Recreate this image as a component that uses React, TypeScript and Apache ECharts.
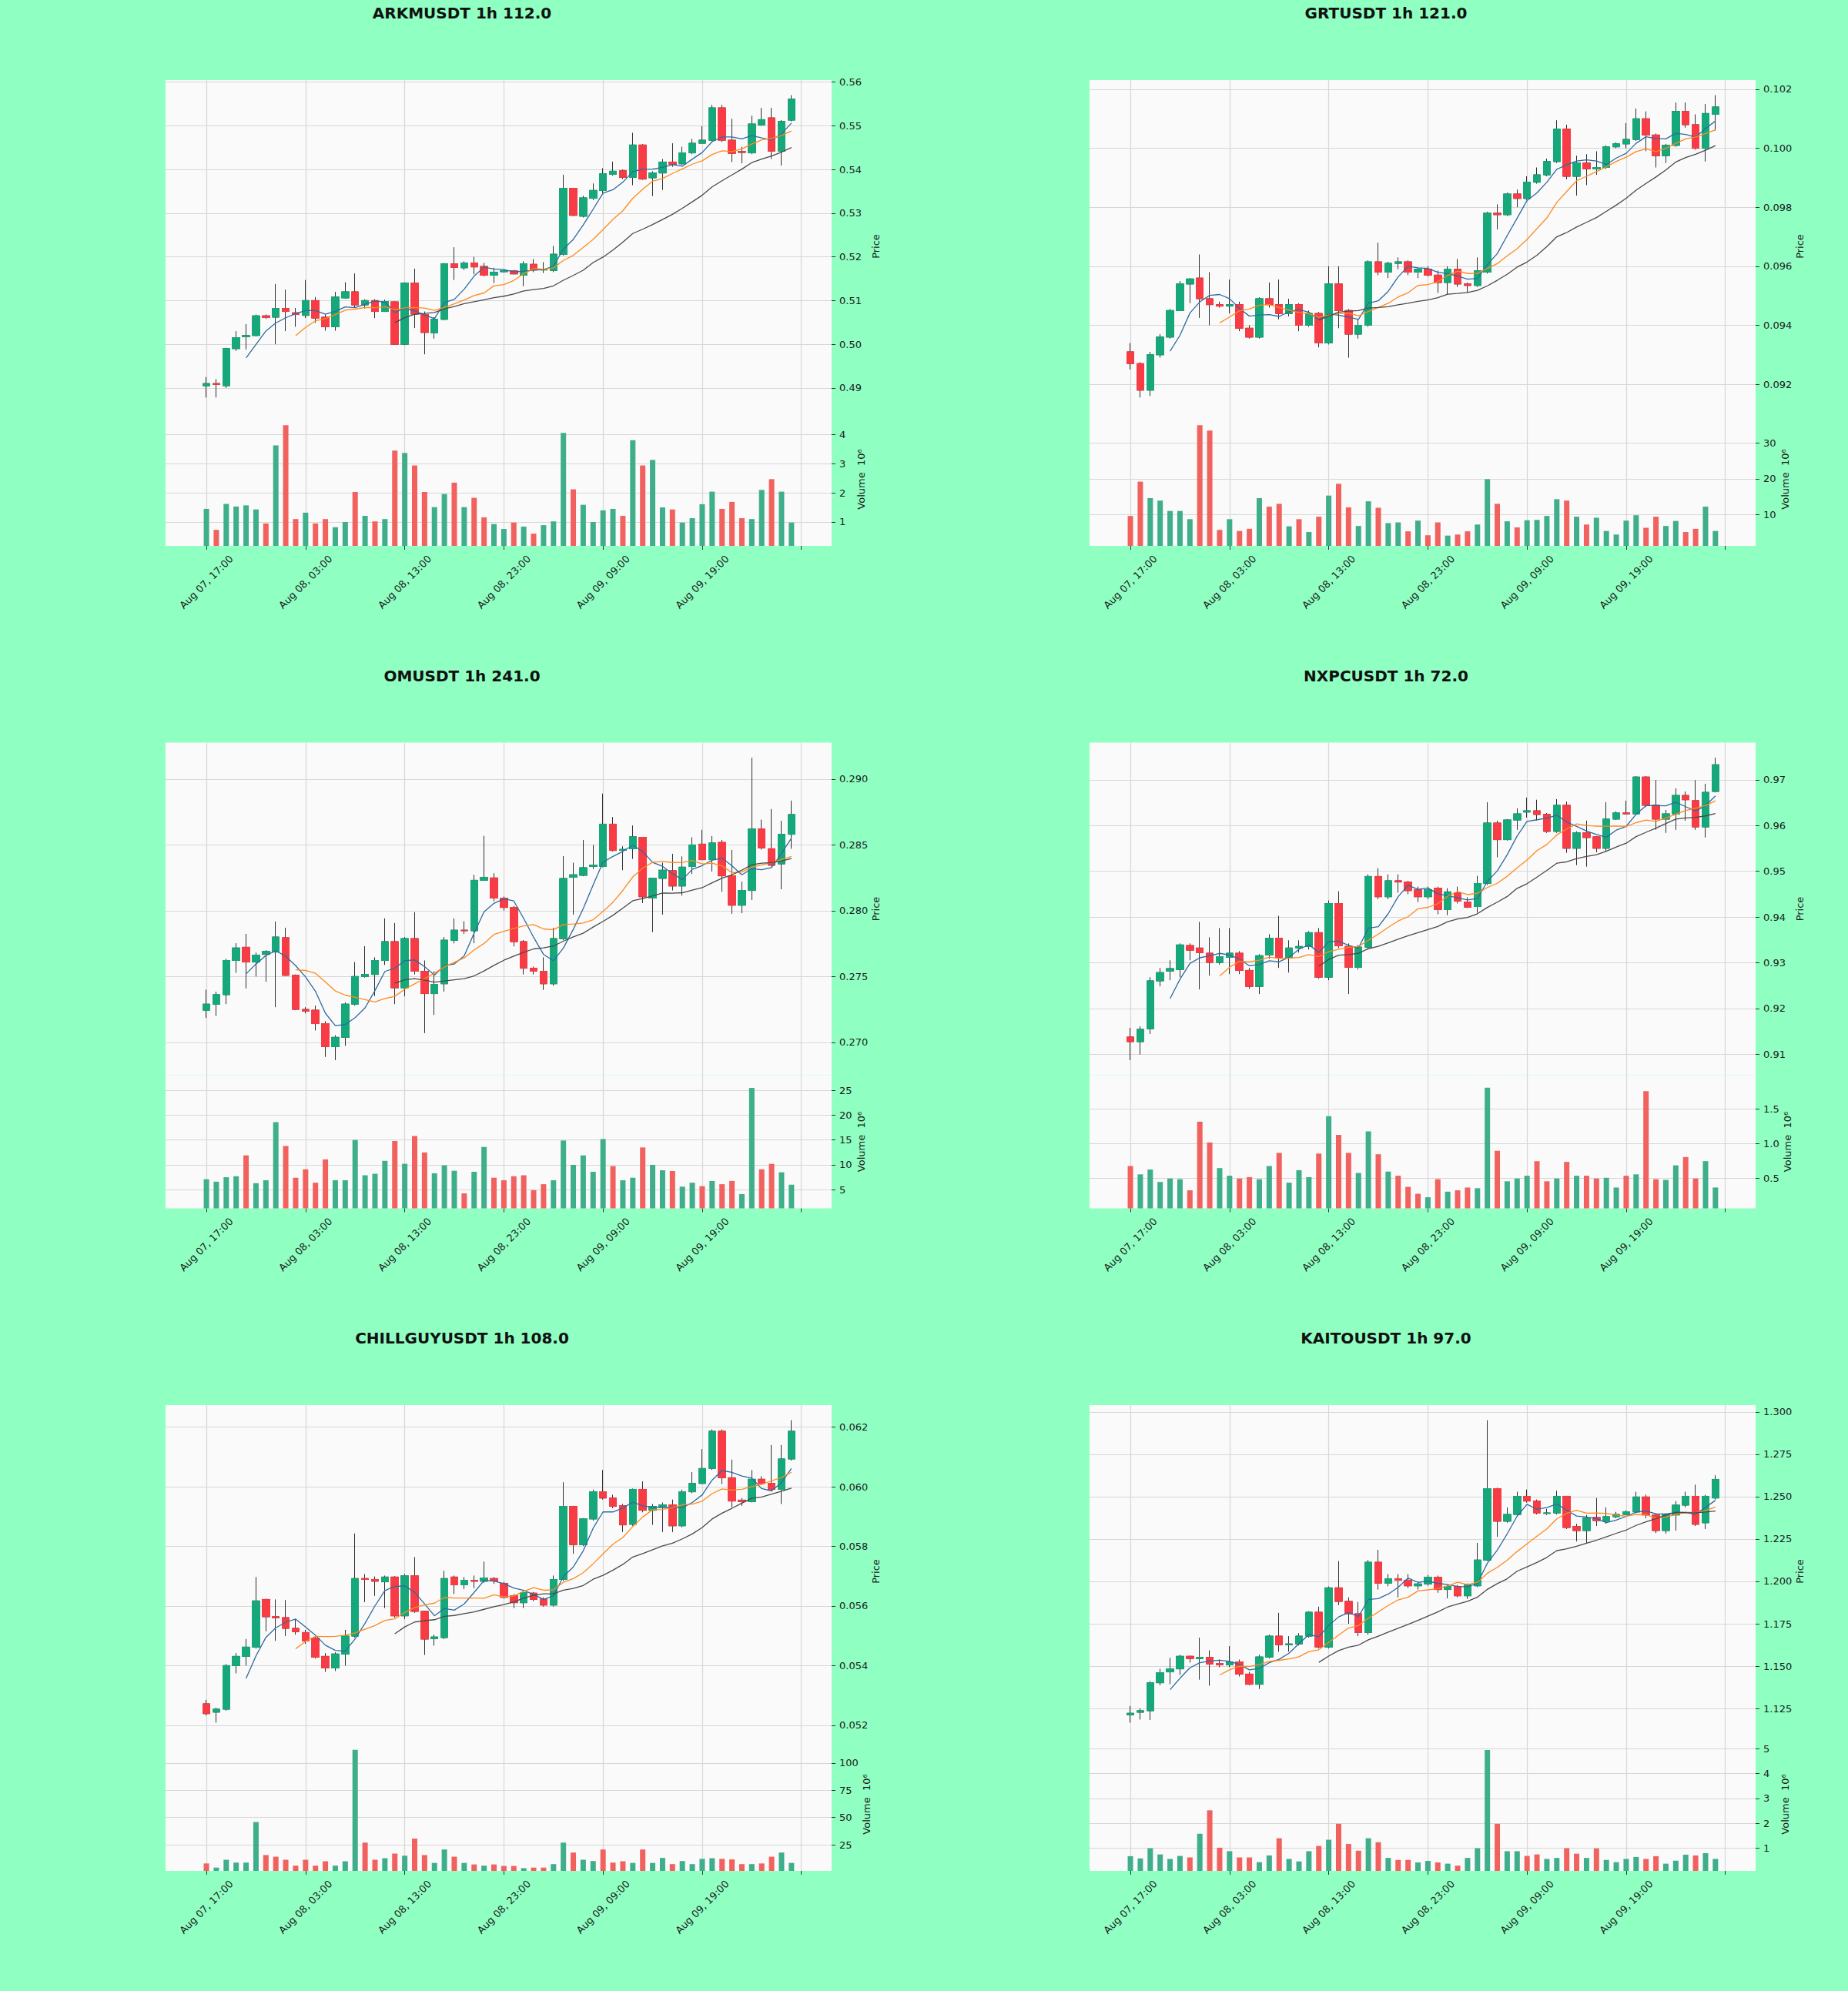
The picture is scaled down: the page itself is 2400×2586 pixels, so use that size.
import React, { useEffect, useRef } from 'react';
import * as echarts from 'echarts';

// ---------- tick labels (every 10 hourly candles) ----------
const xTickLabels = ['Aug 07, 17:00', 'Aug 08, 03:00', 'Aug 08, 13:00', 'Aug 08, 23:00', 'Aug 09, 09:00', 'Aug 09, 19:00'];

// ---------- ARKMUSDT ----------
const arkmOpen = [0.4905,0.491,0.4905,0.499,0.5017,0.502,0.5065,0.5062,0.5082,0.5072,0.5066,0.51,0.5062,0.504,0.5106,0.512,0.509,0.51,0.5075,0.5097,0.5,0.514,0.5068,0.5026,0.5057,0.5184,0.5175,0.5186,0.5178,0.5158,0.5166,0.5168,0.5158,0.5183,0.517,0.5169,0.5206,0.5357,0.5293,0.5334,0.5352,0.5389,0.5397,0.5382,0.5456,0.5381,0.5392,0.5417,0.5413,0.5438,0.546,0.5467,0.5541,0.5467,0.5441,0.5438,0.5502,0.5518,0.5442,0.5513];
const arkmHigh = [0.4925,0.492,0.4992,0.503,0.5046,0.5068,0.5068,0.5138,0.5125,0.5083,0.5147,0.5108,0.5068,0.512,0.5142,0.5162,0.5103,0.5103,0.5102,0.5098,0.5142,0.5173,0.5075,0.5062,0.5186,0.5222,0.519,0.52,0.5186,0.5175,0.517,0.517,0.519,0.5195,0.5188,0.5225,0.5388,0.5358,0.534,0.5368,0.5403,0.5418,0.54,0.5484,0.5458,0.5396,0.5424,0.546,0.5452,0.547,0.5499,0.5548,0.5548,0.5516,0.5452,0.5523,0.5541,0.5541,0.5513,0.557];
const arkmLow = [0.4878,0.4878,0.49,0.4985,0.4988,0.5018,0.5058,0.5,0.503,0.504,0.506,0.5049,0.5031,0.5031,0.5104,0.5084,0.5082,0.506,0.5074,0.4999,0.4998,0.5037,0.4977,0.5013,0.5055,0.5147,0.517,0.516,0.5155,0.514,0.5164,0.516,0.5133,0.5165,0.5163,0.5165,0.5203,0.5293,0.529,0.533,0.5346,0.5386,0.5378,0.5364,0.5376,0.5339,0.5353,0.5406,0.541,0.5435,0.546,0.5464,0.5463,0.5417,0.5414,0.5435,0.55,0.5424,0.5409,0.551];
const arkmClose = [0.491,0.4908,0.499,0.5015,0.502,0.5065,0.5061,0.5082,0.5075,0.5068,0.51,0.506,0.504,0.5108,0.512,0.509,0.51,0.5075,0.5098,0.5,0.514,0.5069,0.5027,0.5057,0.5184,0.5176,0.5186,0.5177,0.5158,0.5165,0.5168,0.5161,0.5184,0.517,0.5172,0.5206,0.5357,0.5295,0.5335,0.5352,0.539,0.5396,0.5382,0.5456,0.5378,0.5392,0.5417,0.5412,0.5438,0.546,0.5467,0.5541,0.5467,0.5437,0.5439,0.5504,0.5514,0.5442,0.551,0.5561];
const arkmVolume = [1.45,0.73,1.62,1.53,1.57,1.43,0.95,3.63,4.32,1.1,1.32,0.95,1.1,0.82,1.0,2.03,1.21,1.02,1.1,3.45,3.37,2.94,2.03,1.51,1.96,2.35,1.51,1.83,1.16,0.93,0.76,0.98,0.84,0.6,0.89,1.02,4.06,2.12,1.59,1.0,1.4,1.45,1.21,3.81,2.94,3.13,1.5,1.43,0.98,1.13,1.61,2.04,1.45,1.69,1.13,1.1,2.1,2.47,2.04,0.98];

// ---------- GRTUSDT ----------
const grtOpen = [0.0931,0.0927,0.0918,0.093,0.0936,0.0945,0.0954,0.0956,0.0949,0.0947,0.09465,0.0947,0.0939,0.0936,0.0949,0.0947,0.0944,0.0947,0.094,0.0944,0.0934,0.0954,0.0945,0.0937,0.094,0.09615,0.0958,0.0961,0.09615,0.0958,0.0959,0.0957,0.09545,0.0959,0.0954,0.09535,0.0958,0.0978,0.09775,0.09845,0.0983,0.09885,0.0991,0.09955,0.10065,0.09905,0.0995,0.0993,0.09935,0.10005,0.10015,0.1003,0.101,0.10045,0.09975,0.1001,0.10125,0.1008,0.1,0.10115];
const grtHigh = [0.0934,0.09275,0.0931,0.0937,0.09455,0.0955,0.0956,0.0964,0.0958,0.0948,0.09555,0.0948,0.094,0.09495,0.09545,0.09555,0.0949,0.09475,0.0945,0.09445,0.096,0.096,0.09455,0.0942,0.0962,0.0968,0.09615,0.0963,0.0962,0.09595,0.096,0.09585,0.096,0.09625,0.09545,0.0963,0.09785,0.0981,0.0985,0.0986,0.09905,0.09935,0.09965,0.10095,0.1008,0.09975,0.0998,0.0999,0.1001,0.1002,0.10085,0.10135,0.10125,0.1005,0.10015,0.10155,0.10155,0.10115,0.1015,0.1018];
const grtLow = [0.0925,0.09155,0.0916,0.0929,0.09355,0.0945,0.09475,0.09425,0.094,0.0946,0.0944,0.0938,0.09355,0.09355,0.0946,0.0942,0.0943,0.0938,0.09395,0.09325,0.09335,0.0939,0.0929,0.09355,0.09395,0.0957,0.0956,0.0959,0.0957,0.0956,0.09565,0.0951,0.09505,0.0953,0.0951,0.0953,0.09575,0.09725,0.0977,0.098,0.09825,0.0988,0.09905,0.0995,0.09895,0.0984,0.09875,0.0991,0.0993,0.1,0.1,0.10025,0.0999,0.09935,0.0995,0.10005,0.1007,0.09995,0.09955,0.1006];
const grtClose = [0.0927,0.0918,0.093,0.0936,0.0945,0.0954,0.09557,0.0949,0.0947,0.09465,0.0947,0.0939,0.0936,0.0949,0.0947,0.0944,0.0947,0.094,0.0944,0.0934,0.0954,0.0945,0.0937,0.094,0.09615,0.0958,0.0961,0.09615,0.0958,0.0959,0.0957,0.09545,0.0959,0.0954,0.09535,0.09585,0.0978,0.09775,0.09845,0.0983,0.09885,0.0991,0.09955,0.10065,0.09905,0.0995,0.0993,0.09935,0.10005,0.10015,0.1003,0.101,0.10045,0.09975,0.1001,0.10125,0.1008,0.1,0.10118,0.1014];
const grtVolume = [9.6,19.2,14.6,13.9,11.0,11.0,8.7,35.0,33.5,5.7,8.7,5.4,6.0,14.6,12.2,13.0,6.7,8.7,5.1,9.4,15.3,18.6,12.0,6.8,13.7,11.9,7.6,7.8,5.3,8.3,4.2,7.8,4.1,4.4,5.3,7.2,19.9,13.0,8.1,6.4,8.4,8.5,9.6,14.3,13.9,9.4,7.2,9.1,5.4,4.4,8.3,9.8,6.3,9.4,6.8,8.2,5.1,6.0,12.2,5.4];

// ---------- OMUSDT ----------
const omOpen = [0.27244,0.2729,0.27362,0.27622,0.27722,0.2761,0.27668,0.27686,0.27795,0.27509,0.2725,0.27244,0.27142,0.26967,0.27038,0.2729,0.275,0.27516,0.27622,0.27765,0.27414,0.27788,0.2754,0.2737,0.27445,0.27776,0.27852,0.27848,0.28231,0.28249,0.28096,0.28025,0.27765,0.27563,0.2754,0.27445,0.27788,0.28254,0.28269,0.28337,0.28337,0.28658,0.2846,0.28471,0.28558,0.28096,0.28246,0.28304,0.28188,0.28337,0.28506,0.28388,0.28519,0.28265,0.28042,0.28154,0.28621,0.28471,0.28356,0.28581];
const omHigh = [0.274,0.27385,0.27635,0.27753,0.27824,0.27682,0.277,0.27918,0.27871,0.27516,0.27267,0.27279,0.2716,0.27054,0.27303,0.2761,0.2773,0.27646,0.27942,0.27907,0.278,0.27989,0.27622,0.2754,0.278,0.27942,0.2792,0.28273,0.28569,0.28285,0.28108,0.28037,0.27777,0.27575,0.27646,0.27871,0.28415,0.28365,0.28538,0.285,0.2889,0.28712,0.2849,0.28648,0.2856,0.2825,0.28365,0.28433,0.28413,0.28558,0.28615,0.28567,0.28538,0.28462,0.28221,0.29163,0.28692,0.28773,0.28683,0.28837];
const omLow = [0.27185,0.272,0.2729,0.27528,0.2741,0.275,0.2746,0.27267,0.27505,0.27244,0.2722,0.2709,0.26889,0.26865,0.26973,0.27279,0.27492,0.27351,0.27588,0.2729,0.2735,0.27516,0.2707,0.27208,0.27386,0.27752,0.27824,0.27753,0.28226,0.28072,0.28001,0.27729,0.27516,0.27516,0.27398,0.2743,0.27776,0.2797,0.28262,0.28317,0.2833,0.2845,0.28308,0.28394,0.28058,0.27837,0.2797,0.28154,0.28115,0.28279,0.28385,0.28298,0.28144,0.27977,0.27981,0.28081,0.28465,0.28337,0.28163,0.28471];
const omClose = [0.2729,0.27362,0.27622,0.27717,0.2761,0.27663,0.2769,0.278,0.27509,0.2725,0.27237,0.27142,0.26967,0.27038,0.2729,0.275,0.27516,0.27622,0.27765,0.27414,0.27788,0.2754,0.2737,0.2744,0.27776,0.27852,0.27848,0.28231,0.28254,0.28096,0.28025,0.27765,0.27563,0.2754,0.27445,0.27788,0.28245,0.28273,0.28327,0.28346,0.28658,0.28458,0.28466,0.28562,0.28106,0.28246,0.28308,0.28188,0.28331,0.285,0.28388,0.28515,0.28265,0.28042,0.28154,0.28621,0.28477,0.28346,0.28581,0.28731];
const omVolume = [7.1,6.6,7.5,7.7,11.9,6.3,6.9,18.6,13.8,7.4,9.1,6.4,11.1,6.9,6.9,15.0,7.9,8.2,10.8,14.8,10.2,15.8,12.5,8.3,9.9,8.8,4.25,8.6,13.6,7.4,6.9,7.7,7.9,4.9,6.1,6.9,14.9,10.0,11.9,8.6,15.2,9.75,6.9,7.4,13.5,10.0,8.9,8.75,5.6,6.4,5.7,6.75,6.1,6.75,4.1,25.5,9.1,10.2,8.5,6.0];

// ---------- NXPCUSDT ----------
const nxpcOpen = [0.91376,0.91275,0.91557,0.92604,0.92819,0.92852,0.93376,0.93322,0.93208,0.93007,0.9312,0.93208,0.92832,0.92483,0.93168,0.93537,0.93101,0.93322,0.93356,0.93658,0.92685,0.94295,0.93356,0.92899,0.93342,0.94886,0.94443,0.94792,0.94765,0.94597,0.94443,0.9463,0.94161,0.9453,0.94329,0.94228,0.94732,0.96054,0.95691,0.96121,0.96295,0.96322,0.96242,0.95872,0.96443,0.95503,0.95839,0.95752,0.95503,0.96141,0.96275,0.96255,0.9706,0.96443,0.96141,0.96255,0.96658,0.96544,0.9597,0.96745];
const nxpcHigh = [0.91577,0.91611,0.92685,0.92886,0.93054,0.93423,0.93423,0.93893,0.93557,0.93758,0.93758,0.93255,0.92886,0.93188,0.93624,0.94027,0.9349,0.9349,0.93691,0.93758,0.94362,0.94564,0.93423,0.9339,0.94933,0.95067,0.94933,0.94933,0.94792,0.94664,0.94664,0.94664,0.9463,0.94664,0.9443,0.949,0.9651,0.96107,0.96141,0.96376,0.96611,0.96564,0.96275,0.96577,0.96523,0.95872,0.96107,0.95772,0.9651,0.96309,0.96544,0.97081,0.97081,0.96993,0.96342,0.96812,0.96745,0.96993,0.96913,0.97483];
const nxpcLow = [0.90872,0.90993,0.91443,0.92483,0.92617,0.92685,0.93054,0.92416,0.92718,0.9296,0.92752,0.92752,0.9243,0.92315,0.93087,0.92886,0.92785,0.93221,0.93289,0.92651,0.92617,0.93322,0.92315,0.92852,0.93289,0.9439,0.9439,0.9453,0.94497,0.94329,0.9439,0.9406,0.9404,0.94295,0.94195,0.94094,0.94698,0.95302,0.95671,0.95906,0.96174,0.96107,0.95839,0.95839,0.95403,0.95134,0.951,0.95416,0.95436,0.96121,0.96242,0.96242,0.9641,0.95906,0.95839,0.95906,0.96107,0.95906,0.95738,0.96725];
const nxpcClose = [0.91275,0.91544,0.92604,0.92785,0.92872,0.93389,0.93275,0.93221,0.93007,0.93134,0.93208,0.92832,0.92483,0.93154,0.93537,0.93101,0.93322,0.93356,0.93658,0.92685,0.94295,0.93369,0.92899,0.93342,0.94886,0.94443,0.94792,0.94765,0.94577,0.94443,0.94597,0.94161,0.9455,0.94349,0.94215,0.94732,0.96054,0.95691,0.96121,0.96255,0.96322,0.96242,0.95872,0.96443,0.95503,0.95839,0.95738,0.95503,0.96141,0.96275,0.96255,0.9706,0.96443,0.96141,0.96255,0.96658,0.96564,0.9597,0.96725,0.97329];
const nxpcVolume = [0.68,0.56,0.63,0.45,0.5,0.49,0.33,1.32,1.02,0.65,0.54,0.5,0.52,0.49,0.68,0.87,0.44,0.62,0.52,0.86,1.4,1.13,0.87,0.58,1.18,0.85,0.6,0.54,0.38,0.28,0.23,0.49,0.31,0.33,0.37,0.36,1.81,0.9,0.46,0.5,0.54,0.75,0.46,0.5,0.74,0.54,0.54,0.5,0.51,0.37,0.54,0.56,1.76,0.49,0.48,0.69,0.81,0.5,0.75,0.37];

// ---------- CHILLGUYUSDT ----------
const chillOpen = [0.05272,0.05244,0.05254,0.054,0.05431,0.05462,0.05622,0.05564,0.05561,0.05525,0.05511,0.05492,0.05431,0.05392,0.05439,0.05499,0.05692,0.05689,0.05681,0.05697,0.05567,0.05701,0.05582,0.0549,0.05494,0.05697,0.05671,0.05686,0.05683,0.05692,0.05676,0.05634,0.05611,0.05643,0.05624,0.05603,0.05689,0.05934,0.05806,0.05892,0.05983,0.05962,0.05936,0.05874,0.05991,0.05921,0.05931,0.05939,0.05869,0.05983,0.06011,0.06061,0.06186,0.0603,0.05955,0.0595,0.06025,0.06011,0.05991,0.06093];
const chillHigh = [0.05285,0.05259,0.05405,0.05442,0.05489,0.05697,0.05624,0.05622,0.0562,0.05556,0.0552,0.05499,0.05442,0.05445,0.0552,0.05843,0.05707,0.05699,0.05702,0.057,0.05707,0.05764,0.05584,0.05504,0.05718,0.05702,0.05697,0.05702,0.05749,0.05697,0.05681,0.0564,0.0565,0.05647,0.05629,0.05702,0.06015,0.05936,0.05895,0.0599,0.06056,0.05973,0.05942,0.05994,0.06018,0.05942,0.05947,0.05957,0.0599,0.06049,0.06126,0.06192,0.06192,0.06091,0.05962,0.06056,0.06035,0.0614,0.0614,0.06223];
const chillLow = [0.05233,0.05209,0.05249,0.05374,0.054,0.05457,0.05515,0.05483,0.05499,0.05504,0.05473,0.05424,0.05379,0.05382,0.054,0.05494,0.05613,0.05634,0.05593,0.05561,0.05556,0.05577,0.05436,0.05467,0.05489,0.0564,0.05657,0.0566,0.05678,0.05674,0.05624,0.05593,0.05593,0.05616,0.05598,0.05598,0.05684,0.05775,0.05801,0.05886,0.05957,0.05928,0.05848,0.05869,0.05914,0.05872,0.05848,0.05848,0.05864,0.05978,0.06009,0.06056,0.06009,0.05931,0.05936,0.05947,0.06007,0.05986,0.05942,0.06088];
const chillClose = [0.05239,0.05254,0.054,0.05431,0.05462,0.05617,0.05564,0.0556,0.05525,0.05514,0.05483,0.05428,0.05392,0.05439,0.05499,0.05692,0.05689,0.05683,0.05697,0.05567,0.05701,0.05582,0.05489,0.05496,0.05692,0.05671,0.05686,0.05683,0.05694,0.05684,0.05629,0.05611,0.05645,0.05622,0.05603,0.05689,0.05934,0.05806,0.05892,0.05983,0.05962,0.05934,0.05872,0.05991,0.05921,0.05934,0.05939,0.05869,0.05983,0.06011,0.06061,0.06186,0.0603,0.05952,0.0595,0.06025,0.06011,0.05991,0.06093,0.06186];
const chillVolume = [7.9,4.1,11.3,8.7,8.7,45.9,15.6,14.1,11.3,5.9,11.3,5.9,9.9,5.9,9.9,112,27,11.3,12.7,17,15,30.7,15.6,8.4,20.7,14.1,8.4,7,5.9,7,5.6,5.6,3.6,4.1,4.1,7.3,27,17.9,11.3,10.1,20.7,8.7,9.9,8.4,20.7,8.4,13,7.3,10.1,7.3,12.1,12.7,12.1,11.6,7.3,7.3,7.9,14.1,17.9,8.4];

// ---------- KAITOUSDT ----------
const kaitoOpen = [1.1212,1.1228,1.1237,1.1402,1.1466,1.1484,1.1558,1.1545,1.1552,1.1516,1.1507,1.1525,1.1453,1.1393,1.1554,1.1677,1.1626,1.1631,1.1677,1.1818,1.1613,1.1962,1.1882,1.1809,1.1699,1.2113,1.1989,1.2016,1.2007,1.1974,1.1985,1.2025,1.1952,1.197,1.1915,1.1974,1.2126,1.2547,1.2355,1.2395,1.2502,1.2474,1.2401,1.2404,1.2502,1.2324,1.23,1.2377,1.2355,1.2382,1.2395,1.241,1.2498,1.2392,1.23,1.2392,1.245,1.2502,1.2346,1.2492];
const kaitoHigh = [1.1265,1.1251,1.1411,1.1484,1.1549,1.1567,1.1563,1.1668,1.1594,1.1539,1.1618,1.1539,1.1466,1.1567,1.1686,1.1814,1.1677,1.1695,1.1824,1.1851,1.197,1.212,1.1906,1.1879,1.2126,1.2186,1.2043,1.2043,1.2043,1.1998,1.2038,1.2034,1.1979,1.1979,1.1988,1.2227,1.2951,1.2553,1.2437,1.2529,1.2542,1.2483,1.2428,1.2535,1.2505,1.234,1.2392,1.2492,1.2437,1.241,1.2419,1.2529,1.2511,1.2401,1.2401,1.2474,1.2529,1.2571,1.2511,1.2626];
const kaitoLow = [1.1167,1.1185,1.1182,1.1387,1.1393,1.1448,1.1521,1.142,1.1384,1.1494,1.1494,1.1439,1.1387,1.1365,1.1545,1.1585,1.1585,1.1622,1.1668,1.1604,1.1604,1.186,1.175,1.1677,1.1686,1.1952,1.1971,1.1906,1.1961,1.1952,1.1974,1.1933,1.19,1.1906,1.1897,1.1966,1.212,1.2263,1.2346,1.2388,1.2465,1.2395,1.2392,1.2395,1.2309,1.2236,1.2227,1.2327,1.234,1.2373,1.2392,1.2401,1.2373,1.2285,1.2282,1.23,1.2437,1.2327,1.2309,1.2483];
const kaitoClose = [1.1222,1.1237,1.1402,1.1461,1.1484,1.1558,1.1545,1.1552,1.1512,1.1507,1.1525,1.1453,1.1393,1.1554,1.1677,1.1626,1.1631,1.1677,1.1818,1.1613,1.1962,1.1882,1.1809,1.1699,1.2113,1.1989,1.2016,1.2007,1.1974,1.1985,1.2025,1.1952,1.197,1.1915,1.1979,1.2126,1.2547,1.2355,1.2395,1.2502,1.2474,1.2404,1.2404,1.2502,1.2318,1.23,1.2373,1.2359,1.2382,1.2395,1.241,1.2498,1.2392,1.23,1.2392,1.245,1.2502,1.2337,1.2502,1.2602];
const kaitoVolume = [0.68,0.59,1.0,0.75,0.57,0.69,0.63,1.58,2.52,1.02,0.88,0.63,0.63,0.44,0.71,1.4,0.57,0.47,0.88,1.09,1.34,1.98,1.17,0.9,1.4,1.24,0.61,0.53,0.53,0.43,0.49,0.43,0.38,0.3,0.61,1.0,4.94,1.98,0.88,0.88,0.69,0.75,0.57,0.61,1.0,0.78,0.61,0.99,0.53,0.44,0.57,0.65,0.57,0.68,0.38,0.5,0.74,0.71,0.8,0.57];

const maPeriods = [5, 10, 20];

const panels = [
  { title: 'ARKMUSDT 1h 112.0', open: arkmOpen, high: arkmHigh, low: arkmLow, close: arkmClose, volume: arkmVolume, priceStep: 0.01, priceDec: 2, volStep: 1, volDec: 0 },
  { title: 'GRTUSDT 1h 121.0', open: grtOpen, high: grtHigh, low: grtLow, close: grtClose, volume: grtVolume, priceStep: 0.002, priceDec: 3, volStep: 10, volDec: 0 },
  { title: 'OMUSDT 1h 241.0', open: omOpen, high: omHigh, low: omLow, close: omClose, volume: omVolume, priceStep: 0.005, priceDec: 3, volStep: 5, volDec: 0 },
  { title: 'NXPCUSDT 1h 72.0', open: nxpcOpen, high: nxpcHigh, low: nxpcLow, close: nxpcClose, volume: nxpcVolume, priceStep: 0.01, priceDec: 2, volStep: 0.5, volDec: 1 },
  { title: 'CHILLGUYUSDT 1h 108.0', open: chillOpen, high: chillHigh, low: chillLow, close: chillClose, volume: chillVolume, priceStep: 0.002, priceDec: 3, volStep: 25, volDec: 0 },
  { title: 'KAITOUSDT 1h 97.0', open: kaitoOpen, high: kaitoHigh, low: kaitoLow, close: kaitoClose, volume: kaitoVolume, priceStep: 0.025, priceDec: 3, volStep: 1, volDec: 0 },
];

// ---------- styles ----------
const PAGE_BG = '#8fffc2';
const PLOT_BG = '#fafafa';
const GRID_COLOR = '#d7d7d7';
const UP = '#16a87a';
const DOWN = '#f73c45';
const VOL_UP = '#3fae8b';
const VOL_DOWN = '#f1625f';
const WICK = '#2e2e2e';
const MA_COLORS = ['#2c6aa0', '#ff8a1c', '#4a4a4a'];
const TEXT = '#1a1a1a';
const FONT = 'DejaVu Sans';

function movingAverage(close: number[], n: number) {
  const out: number[][] = [];
  for (let i = n - 1; i < close.length; i++) {
    let s = 0;
    for (let j = i - n + 1; j <= i; j++) s += close[j];
    out.push([i, s / n]);
  }
  return out;
}

function buildOption() {
  const grid: any[] = [];
  const xAxis: any[] = [];
  const yAxis: any[] = [];
  const series: any[] = [];
  const graphic: any[] = [];

  panels.forEach((p, k) => {
    const col = k % 2;
    const row = Math.floor(k / 2);
    const left = 215 + col * 1200;
    const top = 104 + row * 860.5;
    const priceH = 432;
    const volH = 173;
    const n = p.close.length;
    const gi = 2 * k;

    graphic.push({
      type: 'text',
      x: 600 + col * 1200,
      y: 17 + row * 860.5,
      style: {
        text: p.title, fill: '#111', fontSize: 20, fontWeight: 'bold', fontFamily: FONT,
        align: 'center', verticalAlign: 'middle', textAlign: 'center', textVerticalAlign: 'middle',
      },
    });

    grid.push({ left, top, width: 865, height: priceH, show: true, backgroundColor: PLOT_BG, borderWidth: 0, outerBoundsMode: 'none', containLabel: false });
    grid.push({ left, top: top + priceH, width: 865, height: volH, show: true, backgroundColor: PLOT_BG, borderWidth: 0, outerBoundsMode: 'none', containLabel: false });

    const splitLine = { show: true, showMinLine: false, showMaxLine: false, lineStyle: { color: GRID_COLOR, width: 1.2 } };
    const tick = { show: true, length: 5, lineStyle: { color: '#333', width: 1 } };
    const xBase = { type: 'value', min: -4.12, max: n + 3.05, minInterval: 10, maxInterval: 10, splitLine, axisLine: { show: false, onZero: false } };
    xAxis.push({ ...xBase, gridIndex: gi, axisLabel: { show: false }, axisTick: { show: false } });
    xAxis.push({
      ...xBase, gridIndex: gi + 1,
      axisTick: tick,
      axisLabel: {
        show: true, rotate: 45, align: 'center', verticalAlign: 'middle', margin: 47,
        showMinLabel: false, showMaxLabel: false, fontSize: 13, color: TEXT, fontFamily: FONT,
        formatter: (v: number) => {
          const idx = Math.round(v / 10);
          if (Math.abs(v - idx * 10) > 1e-6 || idx < 0 || idx >= xTickLabels.length) return '';
          return xTickLabels[idx];
        },
      },
    });

    const lo = Math.min(...p.low);
    const hi = Math.max(...p.high);
    const pad = (hi - lo) * 0.05;
    yAxis.push({
      type: 'value', gridIndex: gi, position: 'right', min: lo - pad, max: hi + pad,
      minInterval: p.priceStep, maxInterval: p.priceStep, splitLine,
      axisLine: { show: false, onZero: false },
      axisTick: tick,
      axisLabel: { showMinLabel: false, showMaxLabel: false, fontSize: 13, color: TEXT, fontFamily: FONT, margin: 10, formatter: (v: number) => v.toFixed(p.priceDec) },
      name: 'Price', nameLocation: 'middle', nameRotate: 90, nameGap: 51,
      nameTextStyle: { fontSize: 13, color: TEXT, fontFamily: FONT },
    });
    const vMin = Math.min(...p.volume) * 0.3;
    const vMax = Math.max(...p.volume) * 1.1;
    yAxis.push({
      type: 'value', gridIndex: gi + 1, position: 'right', min: vMin, max: vMax,
      minInterval: p.volStep, maxInterval: p.volStep, splitLine,
      axisLine: { show: false, onZero: false },
      axisTick: tick,
      axisLabel: { showMinLabel: false, showMaxLabel: false, fontSize: 13, color: TEXT, fontFamily: FONT, margin: 10, formatter: (v: number) => v.toFixed(p.volDec) },
      name: 'Volume  10\u2076', nameLocation: 'middle', nameRotate: 90, nameGap: 32,
      nameTextStyle: { fontSize: 13, color: TEXT, fontFamily: FONT },
    });

    // wicks (dark) + body outline
    series.push({
      type: 'candlestick', xAxisIndex: gi, yAxisIndex: gi, barWidth: 10, z: 2,
      data: p.close.map((c, i) => [i, p.open[i], c, p.low[i], p.high[i]]),
      itemStyle: { color: UP, color0: DOWN, borderColor: WICK, borderColor0: WICK, borderWidth: 1 },
    });
    // coloured bodies on top
    series.push({
      type: 'candlestick', xAxisIndex: gi, yAxisIndex: gi, barWidth: 10, z: 3,
      data: p.close.map((c, i) => [i, p.open[i], c, Math.min(p.open[i], c), Math.max(p.open[i], c)]),
      itemStyle: { color: UP, color0: DOWN, borderColor: UP, borderColor0: DOWN, borderWidth: 1 },
    });
    maPeriods.forEach((m, j) => {
      series.push({
        type: 'line', xAxisIndex: gi, yAxisIndex: gi, z: 4,
        data: movingAverage(p.close, m), showSymbol: false, symbol: 'none', smooth: false,
        lineStyle: { width: 1.3, color: MA_COLORS[j] },
      });
    });
    series.push({
      type: 'bar', xAxisIndex: gi + 1, yAxisIndex: gi + 1, barWidth: 7, clip: true,
      data: p.volume.map((v, i) => ({ value: [i, v], itemStyle: { color: p.close[i] >= p.open[i] ? VOL_UP : VOL_DOWN } })),
    });
  });

  return {
    animation: false,
    backgroundColor: PAGE_BG,
    textStyle: { fontFamily: FONT },
    grid, xAxis, yAxis, series, graphic,
  };
}

export default function App() {
  const ref = useRef<HTMLDivElement>(null);
  useEffect(() => {
    document.body.style.margin = '0';
    const chart = echarts.init(ref.current as HTMLDivElement, undefined, { renderer: 'svg', width: 2400, height: 2586 });
    chart.setOption(buildOption() as any);
    return () => chart.dispose();
  }, []);
  return <div ref={ref} style={{ width: 2400, height: 2586 }} />;
}
